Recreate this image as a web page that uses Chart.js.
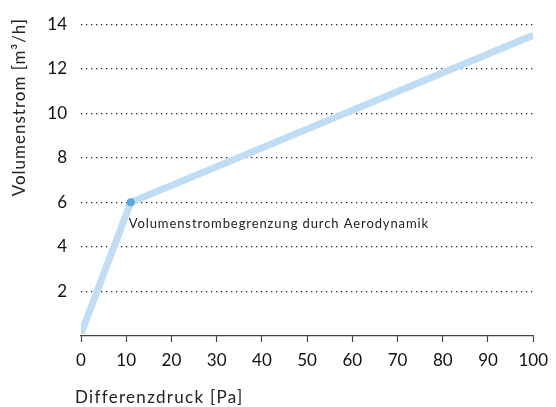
<!DOCTYPE html>
<html>
<head>
<meta charset="utf-8">
<script src="https://cdn.jsdelivr.net/npm/chart.js@4/dist/chart.umd.min.js"></script>
<style>
   html, body { margin: 0; padding: 0; background: #fff; }
   #wrap { width: 556px; height: 407px; }
</style>
</head>
<body>
<div id="wrap"><canvas id="chart" width="556" height="407"></canvas></div>
<script>
// Werte
var pressure = [0, 11, 100];        // Differenzdruck [Pa]
var flow = [0.1, 6, 13.5];          // Volumenstrom [m3/h]
var x_ticks = [0, 10, 20, 30, 40, 50, 60, 70, 80, 90, 100];
var y_ticks = [0, 2, 4, 6, 8, 10, 12, 14];
var note_text = "Volumenstrombegrenzung durch Aerodynamik";
var note_at = 1;   // index of the marked point
var x_title = "Differenzdruck [Pa]";
var y_title = "Volumenstrom [m³/h]";

var font_name = "Lato, 'Open Sans', sans-serif";

// note below the marked point + axis titles (drawn by hand for letter spacing)
var textPlugin = {
   id: 'texts',
   afterDatasetsDraw: function (chart) {
      var ctx = chart.ctx;
      var px = chart.scales.x.getPixelForValue(pressure[note_at]);
      var py = chart.scales.y.getPixelForValue(flow[note_at]);
      ctx.save();
      ctx.fillStyle = "#222";
      ctx.letterSpacing = "0.9px";
      ctx.font = "13px " + font_name;
      ctx.textAlign = "left";
      ctx.textBaseline = "middle";
      ctx.fillText(note_text, px - 2, py + 21);

      ctx.letterSpacing = "1.3px";
      ctx.font = "17px " + font_name;
      ctx.fillText(x_title, 75, 398);

      ctx.letterSpacing = "1px";
      ctx.translate(20, 18);
      ctx.rotate(-Math.PI / 2);
      ctx.textAlign = "right";
      ctx.fillText(y_title, 0, 0);
      ctx.restore();
   }
};

var points = pressure.map(function (p, i) {
   return {x: p, y: flow[i]};
});

new Chart(document.getElementById('chart'), {
   type: 'line',
   data: {
      datasets: [{
         data: points,
         borderColor: '#bfddf4',
         borderWidth: 7,
         borderCapStyle: 'butt',
         tension: 0,
         fill: false,
         pointRadius: pressure.map(function (p, i) { return i == note_at ? 4 : 0; }),
         pointBackgroundColor: '#5aa8df',
         pointBorderWidth: 0
      }]
   },
   options: {
      responsive: false,
      animation: false,
      layout: { padding: { top: 19, right: 22, left: 0, bottom: 0 } },
      plugins: {
         legend: { display: false },
         tooltip: { enabled: false }
      },
      scales: {
         x: {
            type: 'linear',
            min: 0,
            max: 100,
            afterBuildTicks: function (scale) {
               scale.ticks = x_ticks.map(function (v) { return {value: v}; });
            },
            afterFit: function (scale) { scale.height = 71; },
            grid: {
               drawOnChartArea: false,
               drawTicks: true,
               tickLength: 6,
               tickColor: '#444',
               tickWidth: 1.2
            },
            border: { display: true, color: '#444', width: 1.2 },
            ticks: {
               padding: 8,
               color: '#111',
               font: { family: font_name, size: 17 }
            }
         },
         y: {
            type: 'linear',
            min: 0,
            max: 14,
            afterBuildTicks: function (scale) {
               scale.ticks = y_ticks.map(function (v) { return {value: v}; });
            },
            afterFit: function (scale) { scale.width = 81; },
            grid: {
               drawTicks: false,
               color: function (c) { return c.tick && c.tick.value === 0 ? 'rgba(0,0,0,0)' : '#222'; },
               lineWidth: 1.3
            },
            border: { display: false, dash: [1.3, 3.7] },
            ticks: {
               padding: 14,
               color: '#111',
               font: { family: font_name, size: 17 },
               callback: function (v) { return v === 0 ? '' : v; }
            }
         }
      }
   },
   plugins: [textPlugin]
});
</script>
</body>
</html>
